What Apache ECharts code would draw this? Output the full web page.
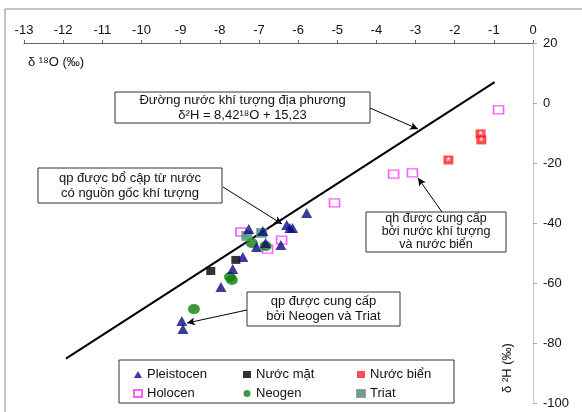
<!DOCTYPE html>
<html><head><meta charset="utf-8">
<script src="https://cdn.jsdelivr.net/npm/echarts@6/dist/echarts.min.js"></script>
<style>html,body{margin:0;padding:0;background:#fff}#c{width:582px;height:412px}</style>
</head><body><div id="c"></div>
<script>
// δ18O (x) , δ2H (y)
const pleistocen = [[-5.78,-36.7],[-6.29,-40.7],[-6.21,-41.7],[-6.14,-41.7],[-7.26,-42],[-6.90,-42.7],[-7.06,-48],[-6.83,-46.7],[-6.44,-47.3],[-7.41,-51.3],[-7.67,-55.3],[-7.97,-61.3],[-8.97,-72.7],[-8.94,-75.3]];
const holocen = [[-0.88,-2.3],[-3.56,-23.7],[-3.08,-23.3],[-5.07,-33.3],[-7.46,-43],[-6.42,-45.7],[-6.78,-48.7]];
const nuocMat = [[-8.23,-56],[-7.59,-52.3]];
const neogen = [[-7.18,-46.7],[-6.83,-47.7],[-7.74,-58],[-7.69,-59],[-8.66,-68.7]];
const triat = [[-7.31,-44.3],[-6.93,-43.3]];
const nuocBien = [[-1.34,-10.3],[-1.32,-12.3],[-2.16,-19]];
const lmwlX = [-11.93, -0.98];
const lmwlY = [-85.2, 6.98];

const FONT = 'Liberation Sans, Arial, sans-serif';
const chart = echarts.init(document.getElementById('c'), null, {renderer:'canvas'});

function box(x, y, w, h, lines, fs, lh) {
  const els = [{type:'rect', shape:{x:x, y:y, width:w, height:h}, style:{fill:'#fff', stroke:'#333', lineWidth:1}}];
  els.push({type:'text', x: x + w/2, y: y + h/2, style:{text: lines.join('\n'), font: fs + 'px ' + FONT, fill:'#111', align:'center', verticalAlign:'middle', lineHeight: lh}});
  return els;
}

const legendCommon = {orient:'vertical', itemWidth:8, itemHeight:7, itemGap:6, textStyle:{fontFamily:FONT, fontSize:13, color:'#111'}, selectedMode:false};

const option = {
  animation:false,
  backgroundColor:'#fff',
  grid:{left:24, right:49, top:43, bottom:9},
  xAxis:{type:'value', min:-13, max:0, interval:1, position:'top',
    axisLine:{onZero:false, lineStyle:{color:'#666', width:1}},
    axisTick:{show:true, length:3, lineStyle:{color:'#666'}},
    axisLabel:{margin:6, fontFamily:FONT, fontSize:13, color:'#111'},
    splitLine:{show:false}},
  yAxis:{type:'value', min:-100, max:20, interval:20, position:'right',
    axisLine:{show:true, onZero:false, lineStyle:{color:'#c8c8c8', width:1}},
    axisTick:{show:true, length:4, lineStyle:{color:'#aaa'}},
    axisLabel:{margin:10, fontFamily:FONT, fontSize:13, color:'#111'},
    splitLine:{show:false}},
  legend:[
    Object.assign({}, legendCommon, {left:128, top:363, data:['Pleistocen','Holocen']}),
    Object.assign({}, legendCommon, {left:238, top:363, data:['Nước mặt','Neogen']}),
    Object.assign({}, legendCommon, {left:351, top:363, data:['Nước biển','Triat']})
  ],
  series:[
    {name:'LMWL', type:'line', data:[[lmwlX[0],lmwlY[0]],[lmwlX[1],lmwlY[1]]], symbol:'none', lineStyle:{color:'#000', width:2}, silent:true, z:1,
      markLine:{silent:true, symbol:['none','arrow'], symbolSize:[6,8], lineStyle:{color:'#000', width:1, type:'solid'}, label:{show:false},
        data:[
          [{x:370,y:108},{x:418,y:129}],
          [{x:223,y:187},{x:282,y:224}],
          [{x:247,y:310},{x:187,y:323}],
          [{x:442,y:212},{x:418,y:178}]
        ]}},
    {name:'Holocen', type:'scatter', data:holocen, symbol:'rect', symbolSize:[10,8], itemStyle:{color:'#fff', borderColor:'#ff33ff', borderWidth:1.5}, z:2},
    {name:'Nước mặt', type:'scatter', data:nuocMat, symbol:'rect', symbolSize:[9,8], itemStyle:{color:'#000'}, z:3},
    {name:'Neogen', type:'scatter', data:neogen, symbol:'circle', symbolSize:[12,10], itemStyle:{color:'#0e7f0e'}, z:3},
    {name:'Triat', type:'scatter', data:triat, symbol:'rect', symbolSize:[10,9], itemStyle:{color:'#2a9a6a', borderColor:'#888', borderWidth:1}, z:3},
    {name:'Pleistocen', type:'scatter', data:pleistocen, symbol:'triangle', symbolSize:[11,10], itemStyle:{color:'#0a0a80'}, z:4},
    {name:'Nước biển', type:'scatter', data:nuocBien, symbol:'rect', symbolSize:[10,9], itemStyle:{color:'#ff2020'}, z:4,
      label:{show:true, position:'inside', formatter:'*', color:'#fff', fontSize:11, fontWeight:'bold', fontFamily:FONT, offset:[0,2]}}
  ],
  graphic:[
    {type:'line', shape:{x1:5, y1:9, x2:582, y2:9}, style:{stroke:'#888', lineWidth:1}},
    {type:'line', shape:{x1:5, y1:9, x2:5, y2:412}, style:{stroke:'#888', lineWidth:1}},
    {type:'text', x:28, y:56, style:{text:'δ ¹⁸O (‰)', font:'13px ' + FONT, fill:'#111'}},
    {type:'text', x:507, y:368, rotation:Math.PI/2, style:{text:'δ ²H (‰)', font:'13px ' + FONT, fill:'#111', align:'center', verticalAlign:'middle'}},
    {type:'rect', shape:{x:119, y:360, width:335, height:43}, style:{fill:'none', stroke:'#333', lineWidth:1}, z:-1},
    ...box(115, 92, 255, 31, ['Đường nước khí tượng địa phương','δ²H = 8,42¹⁸O + 15,23'], 13, 15),
    ...box(38, 168, 184, 35, ['qp được bổ cập từ nước','có nguồn gốc khí tượng'], 13, 15),
    ...box(247, 292, 153, 34, ['qp được cung cấp','bởi Neogen và Triat'], 13, 15),
    ...box(366, 212, 140, 40, ['qh được cung cấp','bởi nước khí tượng','và nước biển'], 12.5, 13)
  ]
};
chart.setOption(option);
</script></body></html>
